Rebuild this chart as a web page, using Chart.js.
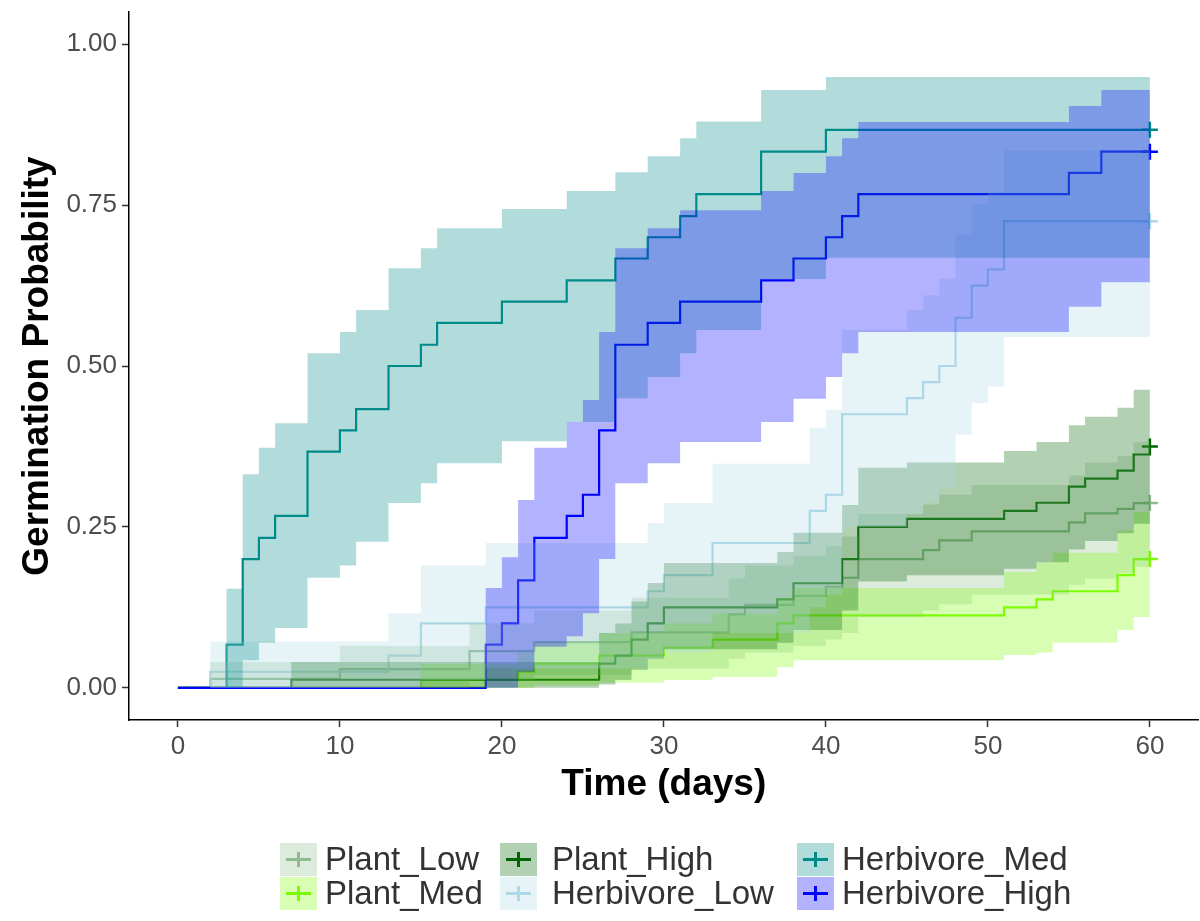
<!DOCTYPE html>
<html lang="en">

<head>
    <meta charset="UTF-8">
    <title>Germination Probability</title>
    <script src="https://cdn.jsdelivr.net/npm/chart.js"></script>
    <style>
        body {
            margin: 0;
            background: #ffffff;
            font-family: "Liberation Sans", Arial, sans-serif;
        }

        .janela {
            position: relative;
            width: 1200px;
            height: 921px;
        }

        .item {
            position: absolute;
            height: 33px;
        }

        .chave {
            position: absolute;
            left: 0;
            top: 0;
            width: 37px;
            height: 33px;
        }

        .chave .h {
            position: absolute;
            left: 6px;
            width: 25px;
            top: 15px;
            height: 3px;
        }

        .chave .v {
            position: absolute;
            left: 17px;
            width: 3px;
            top: 9px;
            height: 15px;
        }

        .texto {
            position: absolute;
            top: -3px;
            font-size: 33px;
            line-height: 38px;
            color: #333333;
            white-space: nowrap;
        }
    </style>
</head>

<body>

    <div class="janela">
        <canvas id="grafico" width="1200" height="921"></canvas>
        <div id="legenda"></div>
    </div>

<script>

    // ---- dados ----
    const grupos = ['Plant_Low', 'Plant_Med', 'Plant_High', 'Herbivore_Low', 'Herbivore_Med', 'Herbivore_High'];
    const cores = ['#8FBC8F', '#7CFC00', '#006400', '#ADD8E6', '#008B8B', '#0000FF'];

    const xTicks = [0, 10, 20, 30, 40, 50, 60];
    const yTicks = [0, 0.25, 0.5, 0.75, 1];
    const yTickLabels = ['0.00', '0.25', '0.50', '0.75', '1.00'];
    const tempoFinal = 60;

    const plantLowT = [0, 2, 10, 18, 22, 28, 34, 35, 38, 40, 41, 42, 46, 47, 49, 55, 56, 58, 59];
    const plantLowP = [0, 0.014, 0.029, 0.057, 0.071, 0.086, 0.114, 0.129, 0.143, 0.157, 0.171, 0.2, 0.214, 0.229, 0.243, 0.257, 0.271, 0.278, 0.287];
    const plantLowLo = [0, 0, 0, 0.012, 0.02, 0.03, 0.045, 0.055, 0.065, 0.075, 0.085, 0.11, 0.12, 0.13, 0.145, 0.16, 0.17, 0.178, 0.188];
    const plantLowHi = [0, 0.04, 0.065, 0.1, 0.12, 0.14, 0.17, 0.19, 0.205, 0.22, 0.235, 0.27, 0.285, 0.3, 0.315, 0.33, 0.35, 0.36, 0.382];

    const plantMedT = [0, 15, 21, 22, 26, 30, 33, 37, 38, 51, 53, 54, 58, 59];
    const plantMedP = [0, 0.0125, 0.025, 0.0375, 0.05, 0.0625, 0.075, 0.1, 0.1125, 0.125, 0.1375, 0.15, 0.175, 0.2];
    const plantMedLo = [0, 0, 0, 0.004, 0.008, 0.012, 0.017, 0.032, 0.043, 0.051, 0.055, 0.07, 0.09, 0.11];
    const plantMedHi = [0, 0.037, 0.055, 0.07, 0.085, 0.1, 0.115, 0.14, 0.155, 0.18, 0.195, 0.21, 0.245, 0.273];

    const plantHighT = [0, 7, 26, 27, 28, 29, 30, 37, 38, 41, 42, 45, 51, 53, 55, 56, 58, 59, 60];
    const plantHighP = [0, 0.0125, 0.0375, 0.05, 0.075, 0.1, 0.125, 0.1375, 0.1625, 0.2, 0.25, 0.2625, 0.275, 0.2875, 0.3125, 0.325, 0.3375, 0.3625, 0.375];
    const plantHighLo = [0, 0, 0.005, 0.012, 0.028, 0.045, 0.06, 0.07, 0.09, 0.12, 0.165, 0.175, 0.185, 0.195, 0.215, 0.228, 0.24, 0.255, 0.27];
    const plantHighHi = [0, 0.04, 0.085, 0.1, 0.134, 0.163, 0.194, 0.211, 0.241, 0.284, 0.342, 0.35, 0.368, 0.382, 0.408, 0.421, 0.435, 0.463, 0.47];

    const herbLowT = [0, 2, 13, 15, 19, 29, 30, 33, 39, 40, 41, 45, 46, 47, 48, 49, 50, 51];
    const herbLowP = [0, 0.025, 0.05, 0.1, 0.125, 0.15, 0.175, 0.225, 0.275, 0.3, 0.425, 0.45, 0.475, 0.5, 0.575, 0.625, 0.65, 0.725];
    const herbLowLo = [0, 0, 0, 0.012, 0.03, 0.045, 0.055, 0.085, 0.125, 0.145, 0.25, 0.27, 0.29, 0.31, 0.393, 0.442, 0.468, 0.545];
    const herbLowHi = [0, 0.072, 0.116, 0.19, 0.225, 0.256, 0.287, 0.348, 0.404, 0.432, 0.556, 0.587, 0.61, 0.636, 0.704, 0.752, 0.77, 0.835];

    const herbMedT = [0, 3, 4, 5, 6, 8, 10, 11, 13, 15, 16, 20, 24, 27, 29, 31, 32, 36, 40];
    const herbMedP = [0, 0.067, 0.2, 0.233, 0.267, 0.367, 0.4, 0.433, 0.5, 0.533, 0.567, 0.6, 0.633, 0.667, 0.7, 0.733, 0.767, 0.833, 0.867];
    const herbMedLo = [0, 0, 0.043, 0.07, 0.093, 0.171, 0.19, 0.227, 0.287, 0.318, 0.349, 0.383, 0.413, 0.45, 0.483, 0.52, 0.556, 0.635, 0.668];
    const herbMedHi = [0, 0.154, 0.332, 0.373, 0.411, 0.52, 0.553, 0.587, 0.652, 0.683, 0.714, 0.744, 0.772, 0.801, 0.826, 0.854, 0.88, 0.929, 0.949];

    const herbHighT = [0, 19, 20, 21, 22, 24, 25, 26, 27, 29, 31, 36, 38, 40, 41, 42, 55, 57];
    const herbHighP = [0, 0.067, 0.1, 0.167, 0.233, 0.267, 0.3, 0.4, 0.533, 0.567, 0.6, 0.633, 0.667, 0.7, 0.733, 0.767, 0.8, 0.833];
    const herbHighLo = [0, 0, 0, 0.025, 0.064, 0.08, 0.116, 0.2, 0.318, 0.349, 0.382, 0.413, 0.449, 0.483, 0.52, 0.553, 0.592, 0.63];
    const herbHighHi = [0, 0.155, 0.203, 0.292, 0.373, 0.413, 0.447, 0.553, 0.683, 0.714, 0.742, 0.772, 0.8, 0.826, 0.854, 0.879, 0.904, 0.929];

    const tempos = [plantLowT, plantMedT, plantHighT, herbLowT, herbMedT, herbHighT];
    const probs = [plantLowP, plantMedP, plantHighP, herbLowP, herbMedP, herbHighP];
    const inferiores = [plantLowLo, plantMedLo, plantHighLo, herbLowLo, herbMedLo, herbHighLo];
    const superiores = [plantLowHi, plantMedHi, plantHighHi, herbLowHi, herbMedHi, herbHighHi];

    // ---------------------------------

    const fonte = '"Liberation Sans", Arial, sans-serif';

    function pontos(t, v) {
        var pts = [];
        for (var i = 0; i < t.length; i++) {
            pts.push({ x: t[i], y: v[i] });
        }
        if (t[t.length - 1] < tempoFinal) {
            pts.push({ x: tempoFinal, y: v[v.length - 1] });
        }
        return pts;
    }

    function rgba(hex, a) {
        var r = parseInt(hex.substr(1, 2), 16);
        var g = parseInt(hex.substr(3, 2), 16);
        var b = parseInt(hex.substr(5, 2), 16);
        return 'rgba(' + r + ',' + g + ',' + b + ',' + a + ')';
    }

    var datasets = [];
    for (var g = 0; g < grupos.length; g++) {
        var idxInferior = datasets.length;
        datasets.push({
            label: grupos[g] + ' inf',
            data: pontos(tempos[g], inferiores[g]),
            stepped: true,
            borderColor: 'transparent',
            borderWidth: 0,
            pointRadius: 0,
            fill: false,
            order: 20 - g
        });
        datasets.push({
            label: grupos[g] + ' sup',
            data: pontos(tempos[g], superiores[g]),
            stepped: true,
            borderColor: 'transparent',
            borderWidth: 0,
            pointRadius: 0,
            fill: idxInferior,
            backgroundColor: rgba(cores[g], 0.3),
            order: 20 - g
        });
        var linha = pontos(tempos[g], probs[g]);
        datasets.push({
            label: grupos[g],
            data: linha,
            stepped: true,
            borderColor: cores[g],
            borderWidth: 2.2,
            fill: false,
            pointStyle: 'cross',
            pointBorderColor: cores[g],
            pointBorderWidth: 2.5,
            pointRadius: (function (n) {
                return function (ctx) { return ctx.dataIndex === n - 1 ? 8 : 0; };
            })(linha.length),
            order: 40 - g
        });
    }

    var ctx = document.getElementById('grafico').getContext('2d');
    var myChart = new Chart(ctx, {
        type: 'line',
        data: { datasets: datasets },
        options: {
            responsive: false,
            devicePixelRatio: 1,
            animation: false,
            events: [],
            layout: {
                autoPadding: false,
                padding: { top: 12, right: 1.5, bottom: 101, left: 0 }
            },
            plugins: {
                legend: { display: false },
                tooltip: { enabled: false }
            },
            scales: {
                x: {
                    type: 'linear',
                    min: -3.02,
                    max: 63,
                    afterBuildTicks: function (scale) {
                        scale.ticks = xTicks.map(function (v) { return { value: v }; });
                    },
                    afterFit: function (scale) {
                        scale.height = 100;
                        scale.paddingLeft = 0;
                        scale.paddingRight = 0;
                    },
                    ticks: {
                        callback: function (v) { return String(v); },
                        font: { family: fonte, size: 26 },
                        color: '#4d4d4d',
                        padding: 4,
                        maxRotation: 0
                    },
                    grid: {
                        drawOnChartArea: false,
                        drawTicks: true,
                        tickLength: 7,
                        tickColor: '#333333',
                        tickWidth: 1.5
                    },
                    border: { display: true, color: '#000000', width: 1.5 },
                    title: {
                        display: true,
                        text: 'Time (days)',
                        color: '#000000',
                        font: { family: fonte, size: 37, weight: 'bold' },
                        padding: { top: 0, bottom: 13 }
                    }
                },
                y: {
                    type: 'linear',
                    min: -0.05,
                    max: 1.05,
                    afterBuildTicks: function (scale) {
                        scale.ticks = yTicks.map(function (v) { return { value: v }; });
                    },
                    afterFit: function (scale) {
                        scale.width = 129;
                        scale.paddingTop = 0;
                        scale.paddingBottom = 0;
                    },
                    ticks: {
                        callback: function (v, i) { return yTickLabels[i]; },
                        font: { family: fonte, size: 26 },
                        color: '#4d4d4d',
                        padding: 5
                    },
                    grid: {
                        drawOnChartArea: false,
                        drawTicks: true,
                        tickLength: 7,
                        tickColor: '#333333',
                        tickWidth: 1.5
                    },
                    border: { display: true, color: '#000000', width: 1.5 },
                    title: {
                        display: true,
                        text: 'Germination Probability',
                        color: '#000000',
                        font: { family: fonte, size: 37, weight: 'bold' },
                        padding: { top: 16, bottom: 0 }
                    }
                }
            }
        }
    });

    // legenda em 3 colunas, preenchida por coluna
    var colunasChave = [280, 500, 797];
    var colunasTexto = [325, 552, 842];
    var linhasY = [843, 877];
    var legenda = document.getElementById('legenda');
    for (var i = 0; i < grupos.length; i++) {
        var c = Math.floor(i / 2);
        var l = i % 2;
        var chave = document.createElement('div');
        chave.className = 'item';
        chave.style.left = colunasChave[c] + 'px';
        chave.style.top = linhasY[l] + 'px';
        chave.innerHTML = '<div class="chave" style="background:' + rgba(cores[i], 0.3) + '">' +
            '<div class="h" style="background:' + cores[i] + '"></div>' +
            '<div class="v" style="background:' + cores[i] + '"></div></div>';
        legenda.appendChild(chave);

        var texto = document.createElement('div');
        texto.className = 'texto';
        texto.style.left = colunasTexto[c] + 'px';
        texto.style.top = (linhasY[l] - 3) + 'px';
        texto.textContent = grupos[i];
        legenda.appendChild(texto);
    }

</script>

</body>

</html>
